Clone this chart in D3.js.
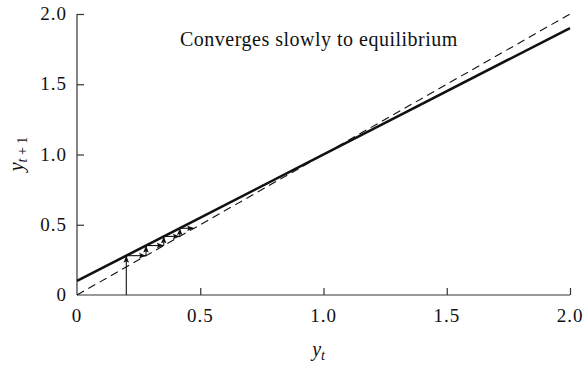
<!DOCTYPE html>
<html>
<head>
<meta charset="utf-8">
<script src="https://cdn.jsdelivr.net/npm/d3@7"></script>
<style>
  html, body { margin: 0; padding: 0; background: #fff; }
  svg { display: block; }
</style>
</head>
<body>
<svg id="chart" width="585" height="368"></svg>
<script>
// Axis ticks
const xTicks = [0, 0.5, 1.0, 1.5, 2.0];
const yTicks = [0, 0.5, 1.0, 1.5, 2.0];
const tickLabels = ["0", "0.5", "1.0", "1.5", "2.0"];

// Map y(t+1) = 0.1 + 0.9 y(t), drawn from its end points
const mapX = [0, 2.0];
const mapY = [0.1, 1.9];
// 45-degree reference line
const diagX = [0, 2.0];
const diagY = [0, 2.0];
// Successive values starting at 0.2
const iterates = [0.2, 0.28, 0.352, 0.417, 0.475];

const serif = "'Liberation Serif', 'Times New Roman', Times, 'DejaVu Serif', serif";
const svg = d3.select("#chart")
  .attr("font-family", serif)
  .style("font-family", serif);
const plotLeft = 77, plotRight = 570, plotTop = 14, plotBottom = 295;

const x = d3.scaleLinear().domain([0, 2]).range([plotLeft, plotRight]);
const y = d3.scaleLinear().domain([0, 2]).range([plotBottom, plotTop]);

// arrowhead marker
svg.append("defs").append("marker")
  .attr("id", "arrow")
  .attr("viewBox", "0 0 10 10")
  .attr("refX", 10).attr("refY", 5)
  .attr("markerWidth", 7).attr("markerHeight", 7)
  .attr("markerUnits", "userSpaceOnUse")
  .attr("orient", "auto")
  .append("path")
  .attr("d", "M0,1 L10,5 L0,9 L2,5 Z")
  .attr("fill", "#111");

// axes
const xAxis = d3.axisBottom(x).tickValues(xTicks.slice(1)).tickSize(-7).tickFormat("");
const yAxis = d3.axisLeft(y).tickValues(yTicks.slice(1)).tickSize(-7).tickFormat("");

svg.append("g").attr("transform", `translate(0,${plotBottom})`).call(xAxis)
  .call(g => g.select(".domain").attr("d", `M${plotLeft},0H${plotRight}`))
  .call(g => g.selectAll("line, path").attr("stroke", "#333").attr("stroke-width", 1.2));
svg.append("g").attr("transform", `translate(${plotLeft},0)`).call(yAxis)
  .call(g => g.select(".domain").attr("d", `M0,${plotBottom}V${plotTop}`))
  .call(g => g.selectAll("line, path").attr("stroke", "#333").attr("stroke-width", 1.2));

const txt = sel => sel.attr("font-family", serif).style("font-family", serif).attr("fill", "#111");

// tick labels
svg.append("g").selectAll("text").data(xTicks).join("text")
  .call(txt)
  .attr("x", d => x(d)).attr("y", plotBottom + 27)
  .attr("text-anchor", "middle").attr("font-size", 19).attr("letter-spacing", 1)
  .text((d, i) => tickLabels[i]);
svg.append("g").selectAll("text").data(yTicks).join("text")
  .call(txt)
  .attr("x", plotLeft - 10).attr("y", d => y(d) + 6)
  .attr("text-anchor", "end").attr("font-size", 19).attr("letter-spacing", 1)
  .text((d, i) => tickLabels[i]);

// axis titles
svg.append("text").call(txt).attr("x", x(0.98)).attr("y", 356)
  .attr("text-anchor", "middle").attr("font-size", 20)
  .html('<tspan font-style="italic">y</tspan><tspan font-style="italic" font-size="14" dy="4">t</tspan>');
svg.append("text").call(txt)
  .attr("transform", "translate(23,154) rotate(-90)")
  .attr("text-anchor", "middle").attr("font-size", 20)
  .html('<tspan font-style="italic">y</tspan><tspan font-size="14" dy="4"><tspan font-style="italic">t</tspan> + 1</tspan>');

// plot lines
const line = d3.line().x(d => x(d[0])).y(d => y(d[1]));
svg.append("path").datum(d3.zip(diagX, diagY)).attr("d", line)
  .attr("fill", "none").attr("stroke", "#111").attr("stroke-width", 1.1)
  .attr("stroke-dasharray", "8,5");
svg.append("path").datum(d3.zip(mapX, mapY)).attr("d", line)
  .attr("fill", "none").attr("stroke", "#111").attr("stroke-width", 2.6);

// cobweb: vertical from the axis, then horizontal / vertical steps
const segs = [];
segs.push([[iterates[0], 0], [iterates[0], iterates[1]]]);
for (let i = 1; i < iterates.length; i++) {
  segs.push([[iterates[i - 1], iterates[i]], [iterates[i], iterates[i]]]);
  if (i + 1 < iterates.length) segs.push([[iterates[i], iterates[i]], [iterates[i], iterates[i + 1]]]);
}
svg.append("g").selectAll("path").data(segs).join("path")
  .attr("d", line)
  .attr("fill", "none").attr("stroke", "#111").attr("stroke-width", 1.1)
  .attr("marker-end", "url(#arrow)");

// annotation
svg.append("text").call(txt).attr("x", 180).attr("y", 46).attr("font-size", 20)
  .attr("letter-spacing", 0.5)
  .text("Converges slowly to equilibrium");
</script>
</body>
</html>
